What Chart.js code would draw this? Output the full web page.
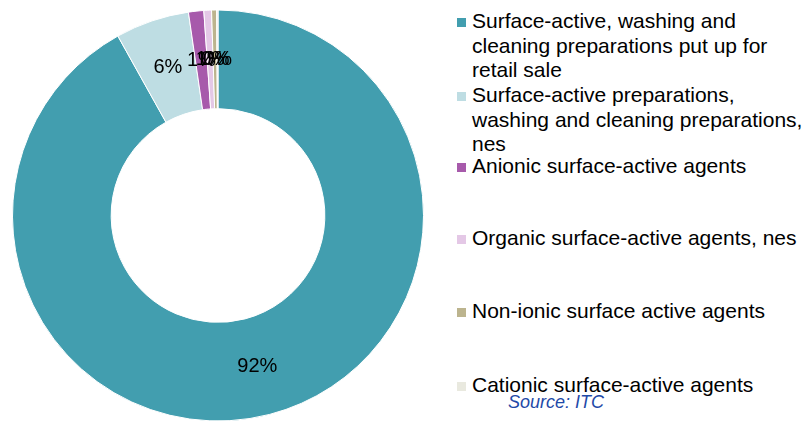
<!DOCTYPE html>
<html>
<head>
<meta charset="utf-8">
<script src="https://cdn.jsdelivr.net/npm/chart.js@4/dist/chart.umd.min.js"></script>
<style>
    html, body { margin: 0; padding: 0; background: #fff; }
    #wrap { position: relative; width: 806px; height: 422px; overflow: hidden; font-family: "Liberation Sans", Arial, sans-serif; }
    #chartBox { position: absolute; left: 0; top: 0; width: 436px; height: 422px; }
    .legend-item { position: absolute; left: 457px; font-size: 21px; line-height: 24.5px; color: #000; white-space: nowrap; }
    .legend-item .sw { position: absolute; left: 0; top: 9px; width: 9px; height: 9px; }
    .legend-item .txt { position: absolute; left: 15px; top: 0; }
    #source { position: absolute; left: 508px; top: 393px; font-size: 18px; line-height: 18px; font-style: italic; color: #1f4aa8; }
</style>
</head>
<body>
<div id="wrap">
    <div id="chartBox"><canvas id="chart"></canvas></div>
    <div id="legend"></div>
    <div id="source">Source: ITC</div>
</div>
<script>
// Categories (legend lines), shares in %, and slice colours
const categories = [
    ['Surface-active, washing and', 'cleaning preparations put up for', 'retail sale'],
    ['Surface-active preparations,', 'washing and cleaning preparations,', 'nes'],
    ['Anionic surface-active agents'],
    ['Organic surface-active agents, nes'],
    ['Non-ionic surface active agents'],
    ['Cationic surface-active agents']
];
const shares = [91.9, 5.8, 1.2, 0.6, 0.4, 0.1];
const colors = ['#429eaf', '#bedde3', '#a75aab', '#e4c8e6', '#bcb48e', '#e9e9df'];
const legendTops = [9, 83, 154, 226, 299, 373];

// Draw rounded % in the middle of each slice
const sliceLabels = {
    id: 'sliceLabels',
    afterDatasetsDraw(chart) {
        const ctx = chart.ctx;
        const meta = chart.getDatasetMeta(0);
        const total = shares.reduce((a, b) => a + b, 0);
        ctx.save();
        ctx.font = '20px "Liberation Sans", Arial, sans-serif';
        ctx.fillStyle = '#000';
        ctx.textAlign = 'center';
        ctx.textBaseline = 'middle';
        meta.data.forEach((arc, i) => {
            const p = arc.tooltipPosition();
            ctx.fillText(Math.round(shares[i] / total * 100) + '%', p.x, p.y);
        });
        ctx.restore();
    }
};

new Chart(document.getElementById('chart'), {
    type: 'doughnut',
    data: {
        labels: categories,
        datasets: [{
            data: shares,
            backgroundColor: colors,
            borderColor: '#ffffff',
            borderWidth: 1
        }]
    },
    options: {
        responsive: true,
        maintainAspectRatio: false,
        animation: false,
        cutout: '52%',
        layout: { padding: { top: 9, bottom: 0, left: 12, right: 12 } },
        plugins: {
            legend: { display: false },
            tooltip: { enabled: false }
        }
    },
    plugins: [sliceLabels]
});

// HTML legend
const legend = document.getElementById('legend');
categories.forEach((lines, i) => {
    const item = document.createElement('div');
    item.className = 'legend-item';
    item.style.top = legendTops[i] + 'px';
    item.innerHTML = `<span class="sw" style="background:${colors[i]}"></span><span class="txt">${lines.join('<br>')}</span>`;
    legend.appendChild(item);
});
</script>
</body>
</html>
